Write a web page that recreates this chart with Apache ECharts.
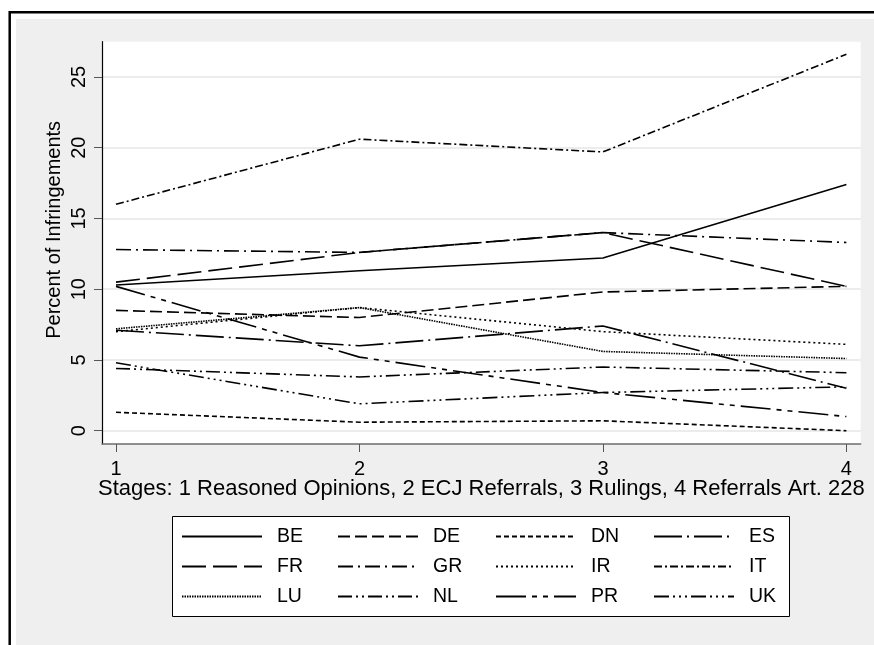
<!DOCTYPE html>
<html>
<head>
<meta charset="utf-8">
<script src="https://cdn.jsdelivr.net/npm/echarts@6/dist/echarts.min.js"></script>
<style>
  html, body { margin: 0; padding: 0; background: #fff; }
  #infringe_chart { width: 874px; height: 645px; }
</style>
</head>
<body>
<div id="infringe_chart"></div>
<script>
// stages on the x axis
var stages = [1, 2, 3, 4]
var yTicks = [0, 5, 10, 15, 20, 25]

// percent of infringements per member state, one value per stage
var BE = [10.3, 11.3, 12.2, 17.4]
var DE = [8.5, 8.0, 9.8, 10.2]
var DN = [1.3, 0.6, 0.7, 0.0]
var ES = [7.1, 6.0, 7.4, 3.0]
var FR = [10.5, 12.6, 14.0, 10.2]
var GR = [12.8, 12.6, 14.0, 13.3]
var IR = [7.0, 8.7, 7.0, 6.1]
var IT = [16.0, 20.6, 19.7, 26.6]
var LU = [7.2, 8.7, 5.6, 5.1]
var NL = [4.4, 3.8, 4.5, 4.1]
var PR = [10.2, 5.2, 2.7, 1.0]
var UK = [4.8, 1.9, 2.7, 3.1]

var countries = ['BE', 'DE', 'DN', 'ES', 'FR', 'GR', 'IR', 'IT', 'LU', 'NL', 'PR', 'UK']
var values = { BE: BE, DE: DE, DN: DN, ES: ES, FR: FR, GR: GR, IR: IR, IT: IT, LU: LU, NL: NL, PR: PR, UK: UK }

// stata-like line patterns
var dashes = {
  BE: 'solid',
  DE: [12, 5],
  DN: [5, 3],
  ES: [28, 5, 2, 5],
  FR: [24, 7],
  GR: [15, 5, 2, 5],
  IR: [2, 3],
  IT: [8, 3, 2, 3],
  LU: [1.5, 1],
  NL: [14, 4, 2, 4, 2, 4],
  PR: [30, 6, 5, 6, 5, 6],
  UK: [15, 4, 2, 4, 2, 4, 2, 4]
}

var font = 'Liberation Sans, Arial, sans-serif'

var series = countries.map(function (c) {
  return {
    name: c,
    type: 'line',
    symbol: 'none',
    z: 3,
    lineStyle: { color: '#000', width: 1.6, type: dashes[c] },
    itemStyle: { color: '#000' },
    data: stages.map(function (s, i) { return [s, values[c][i]] })
  }
})

// legend in 4 columns, only the line pattern as key
var columns = [['BE', 'FR', 'LU'], ['DE', 'GR', 'NL'], ['DN', 'IR', 'PR'], ['ES', 'IT', 'UK']]
var colLeft = [181, 337, 495, 653]
var legends = columns.map(function (col, i) {
  return {
    orient: 'vertical',
    left: colLeft[i],
    top: 526.5,
    padding: 0,
    itemGap: 10,
    itemWidth: 80,
    itemHeight: 20,
    selectedMode: false,
    itemStyle: { color: 'rgba(0,0,0,0)', borderWidth: 0, opacity: 0 },
    textStyle: { fontSize: 19.5, fontFamily: font, color: '#000', padding: [0, 0, 0, 10] },
    data: col
  }
})

var option = {
  backgroundColor: '#fff',
  animation: false,
  graphic: [
    { type: 'rect', z: -10, shape: { x: 16, y: 19, width: 858, height: 626 }, style: { fill: '#efefef' } },
    { type: 'line', z: -10, shape: { x1: 9.7, y1: 12.2, x2: 874, y2: 12.2 }, style: { stroke: '#000', lineWidth: 2.5 } },
    { type: 'line', z: -10, shape: { x1: 9.7, y1: 11, x2: 9.7, y2: 645 }, style: { stroke: '#000', lineWidth: 2.5 } },
    { type: 'rect', z: 1, shape: { x: 172.5, y: 516.5, width: 617, height: 100 }, style: { fill: '#fff', stroke: '#000', lineWidth: 1 } }
  ],
  grid: {
    left: 102,
    right: 13.3,
    top: 41.7,
    bottom: 201,
    show: true,
    backgroundColor: '#fff',
    borderWidth: 0
  },
  legend: legends,
  xAxis: {
    type: 'value',
    min: 0.9425,
    max: 4.0587,
    name: 'Stages: 1 Reasoned Opinions, 2 ECJ Referrals, 3 Rulings, 4 Referrals Art. 228',
    nameLocation: 'middle',
    nameGap: 34,
    nameMoveOverlap: false,
    nameTextStyle: { fontSize: 22, fontFamily: font, color: '#000' },
    axisLine: { onZero: false, lineStyle: { color: '#6e6e6e', width: 1.5 } },
    axisTick: { customValues: stages, length: 8, lineStyle: { color: '#555' } },
    axisLabel: { customValues: stages, fontSize: 20, fontFamily: font, color: '#000', margin: 15 },
    splitLine: { show: false }
  },
  yAxis: {
    type: 'value',
    min: -0.94,
    max: 27.49,
    name: 'Percent of Infringements',
    nameLocation: 'middle',
    nameGap: 38,
    nameMoveOverlap: false,
    nameTextStyle: { fontSize: 20, fontFamily: font, color: '#000', padding: [0, 0, 0, 26] },
    axisLine: { show: true, lineStyle: { color: '#000', width: 1.2 } },
    axisTick: { show: true, customValues: yTicks, length: 8, lineStyle: { color: '#555' } },
    axisLabel: { customValues: yTicks, rotate: 90, fontSize: 20, fontFamily: font, color: '#000', margin: 13 },
    splitLine: { show: true, lineStyle: { color: '#e6e6e6', width: 1.5 } }
  },
  series: series
}

var infringe_chart = echarts.init(document.getElementById('infringe_chart'))
infringe_chart.setOption(option)
</script>
</body>
</html>
